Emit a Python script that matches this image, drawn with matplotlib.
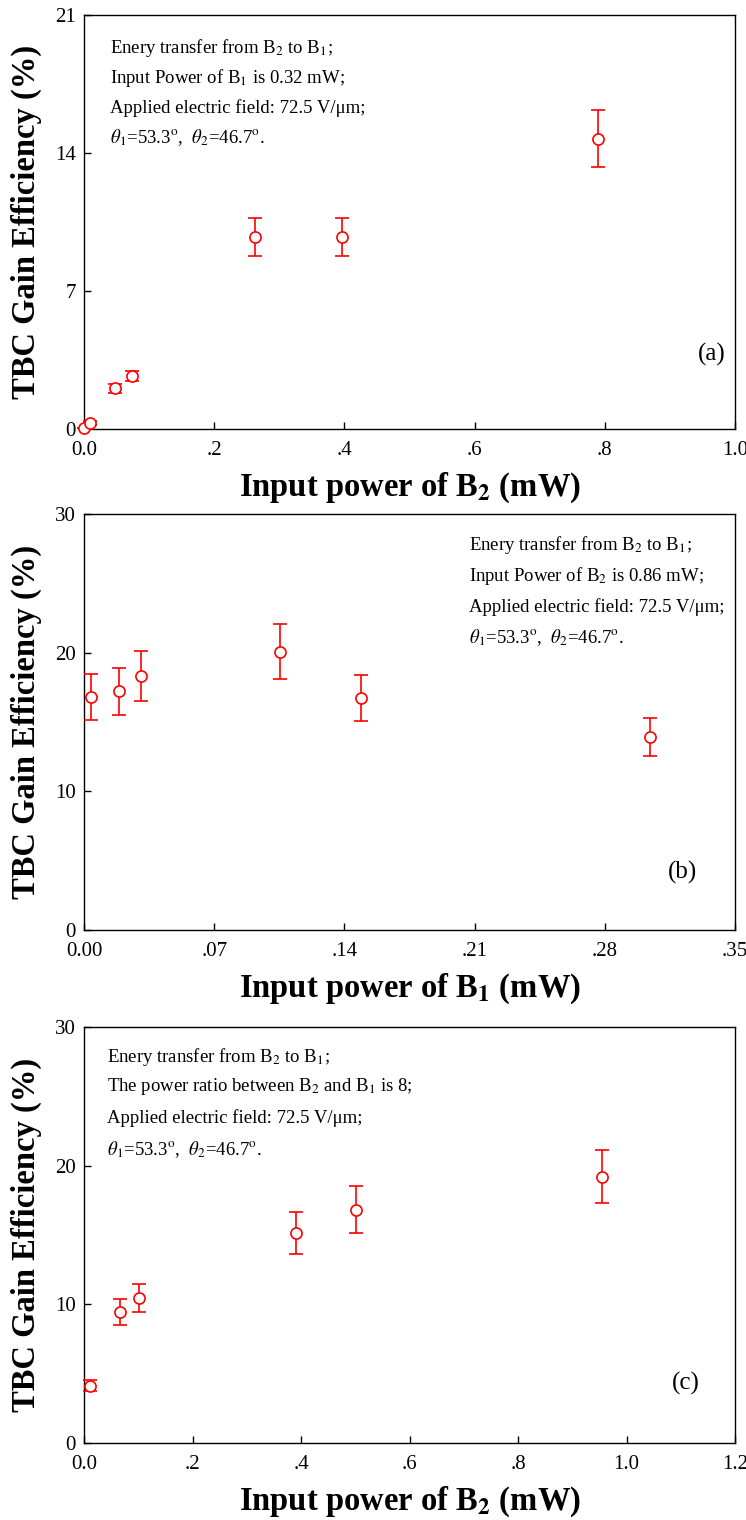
import numpy as np
import matplotlib
matplotlib.use("Agg")
import matplotlib.pyplot as plt

plt.rcParams['font.family'] = ['Liberation Serif', 'DejaVu Serif']
plt.rcParams['mathtext.fontset'] = 'stix'

# panel (a): gain vs input power of B2 (B1 fixed at 0.32 mW)
a_x = [0.0, 0.009, 0.048, 0.073, 0.262, 0.397, 0.790]
a_y = [0.05, 0.29, 2.06, 2.69, 9.74, 9.74, 14.73]
a_err = [0.0, 0.1, 0.24, 0.26, 0.96, 0.96, 1.46]
a_xticks = [0.0, 0.2, 0.4, 0.6, 0.8, 1.0]
a_xlabels = ['0.0', '.2', '.4', '.6', '.8', '1.0']
a_yticks = [0, 7, 14, 21]

# panel (b): gain vs input power of B1 (B2 fixed at 0.86 mW)
b_x = [0.0038, 0.019, 0.0306, 0.1054, 0.149, 0.3043]
b_y = [16.8, 17.2, 18.3, 20.05, 16.7, 13.9]
b_err = [1.65, 1.7, 1.8, 1.98, 1.66, 1.37]
b_xticks = [0.0, 0.07, 0.14, 0.21, 0.28, 0.35]
b_xlabels = ['0.00', '.07', '.14', '.21', '.28', '.35']
b_yticks = [0, 10, 20, 30]

# panel (c): gain vs input power of B2 (ratio B2/B1 = 8)
c_x = [0.011, 0.067, 0.101, 0.390, 0.502, 0.955]
c_y = [4.13, 9.42, 10.45, 15.16, 16.82, 19.2]
c_err = [0.4, 0.93, 1.03, 1.51, 1.68, 1.92]
c_xticks = [0.0, 0.2, 0.4, 0.6, 0.8, 1.0, 1.2]
c_xlabels = ['0.0', '.2', '.4', '.6', '.8', '1.0', '1.2']
c_yticks = [0, 10, 20, 30]

notes_a = [r'Enery transfer from B$_2$ to B$_1$;',
           r'Input Power of B$_1$ is 0.32 mW;',
           'Applied electric field: 72.5 V/\u03bcm;',
           r'$\theta_1$=53.3$^{\rm o}$,  $\theta_2$=46.7$^{\rm o}$.']
notes_b = [r'Enery transfer from B$_2$ to B$_1$;',
           r'Input Power of B$_2$ is 0.86 mW;',
           'Applied electric field: 72.5 V/\u03bcm;',
           r'$\theta_1$=53.3$^{\rm o}$,  $\theta_2$=46.7$^{\rm o}$.']
notes_c = [r'Enery transfer from B$_2$ to B$_1$;',
           r'The power ratio between B$_2$ and B$_1$ is 8;',
           'Applied electric field: 72.5 V/\u03bcm;',
           r'$\theta_1$=53.3$^{\rm o}$,  $\theta_2$=46.7$^{\rm o}$.']

fig = plt.figure(figsize=(7.46, 15.2), dpi=100)

panels = [
    dict(rect=[0.1126, 0.7178, 0.8727, 0.2724], x=a_x, y=a_y, err=a_err,
         xt=a_xticks, xl=a_xlabels, yt=a_yticks, xlim=(0, 1.0), ylim=(0, 21),
         xlabel=r'Input power of B$_\mathbf{2}$ (mW)', notes=notes_a,
         nx=0.04, ny=[0.920, 0.848, 0.775, 0.703], tag='(a)',
         tagx=0.965, tagy=0.179),
    dict(rect=[0.1126, 0.3882, 0.8727, 0.2737], x=b_x, y=b_y, err=b_err,
         xt=b_xticks, xl=b_xlabels, yt=b_yticks, xlim=(0, 0.35), ylim=(0, 30),
         xlabel=r'Input power of B$_\mathbf{1}$ (mW)', notes=notes_b,
         nx=0.591, ny=[0.925, 0.851, 0.776, 0.702], tag='(b)',
         tagx=0.92, tagy=0.137),
    dict(rect=[0.1126, 0.0507, 0.8727, 0.2737], x=c_x, y=c_y, err=c_err,
         xt=c_xticks, xl=c_xlabels, yt=c_yticks, xlim=(0, 1.2), ylim=(0, 30),
         xlabel=r'Input power of B$_\mathbf{2}$ (mW)', notes=notes_c,
         nx=0.035, ny=[0.928, 0.856, 0.781, 0.704], tag='(c)',
         tagx=0.924, tagy=0.144),
]

for p in panels:
    ax = fig.add_axes(p['rect'])
    ax.errorbar(p['x'], p['y'], yerr=p['err'], fmt='o', color='red',
                mfc='white', mec='red', ms=8, mew=1.2, elinewidth=1.2,
                capsize=5, capthick=1.2, clip_on=False, zorder=3)
    ax.set_xlim(*p['xlim'])
    ax.set_ylim(*p['ylim'])
    ax.set_xticks(p['xt'])
    ax.set_xticklabels(p['xl'])
    ax.set_yticks(p['yt'])
    ax.tick_params(direction='in', length=5, width=1, labelsize=15,
                   top=False, right=False)
    ax.tick_params(axis='x', pad=9)
    ax.tick_params(axis='y', pad=6)
    for s in ax.spines.values():
        s.set_linewidth(1.0)
    ax.set_xlabel(p['xlabel'], fontsize=23.5, fontweight='bold', labelpad=7)
    ax.set_ylabel('TBC Gain Efficiency (%)', fontsize=23.5, fontweight='bold',
                  labelpad=9)
    for line, yy in zip(p['notes'], p['ny']):
        ax.text(p['nx'], yy, line, transform=ax.transAxes, fontsize=13.5,
                va='center', ha='left')
    ax.text(p['tagx'], p['tagy'], p['tag'], transform=ax.transAxes,
            fontsize=18, va='center', ha='center')

fig.savefig('out.png', dpi=100)
